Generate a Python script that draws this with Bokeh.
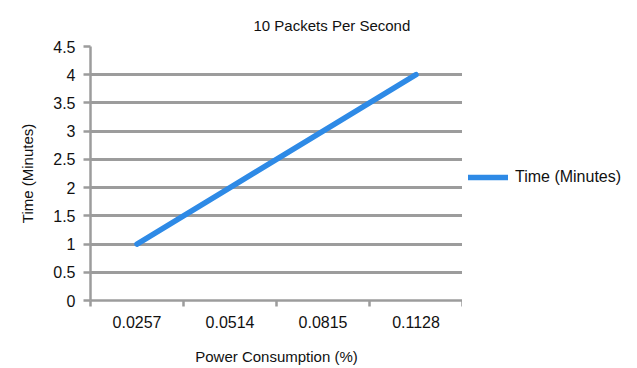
from bokeh.plotting import figure
from bokeh.layouts import row
from bokeh.models import Range1d, LinearAxis, FixedTicker, Legend, LegendItem, Title
from bokeh.embed import file_html
from bokeh.resources import INLINE

power = ["0.0257", "0.0514", "0.0815", "0.1128"]
time_minutes = [1, 2, 3, 4]
y_ticks = [0, 0.5, 1, 1.5, 2, 2.5, 3, 3.5, 4, 4.5]
y_tick_labels = ["0", "0.5", "1", "1.5", "2", "2.5", "3", "3.5", "4", "4.5"]
series_name = "Time (Minutes)"

# category slots: each category occupies one unit, centred at i + 0.5
x_pos = [i + 0.5 for i in range(len(power))]
x_edges = list(range(len(power) + 1))

FONT = "Liberation Sans"
GRAY = "#9c9c9c"
BLUE = "#2e8ae6"

p = figure(frame_width=372, frame_height=254, output_backend="svg", toolbar_location=None,
           x_range=Range1d(0, len(power)), y_range=Range1d(0, 4.5),
           x_axis_location=None, y_axis_location=None,
           min_border_left=90, min_border_right=0, min_border_top=46, min_border_bottom=68)
p.title = None
p.outline_line_color = None

t = Title(text="10 Packets Per Second", align="left", offset=163, standoff=26,
          text_font=FONT, text_font_size="15px", text_font_style="normal", text_color="#111111")
p.add_layout(t, "above")

# x axis with boundary ticks
edge_axis = LinearAxis(ticker=FixedTicker(ticks=x_edges),
                       major_label_text_font_size="0px", major_label_standoff=0,
                       axis_line_color=GRAY, axis_line_width=2.5,
                       major_tick_line_color=GRAY, major_tick_line_width=2.5,
                       major_tick_out=6, major_tick_in=0, minor_tick_line_color=None)
edge_axis.major_label_overrides = {i: "" for i in x_edges}
p.add_layout(edge_axis, "below")

cat_axis = LinearAxis(ticker=FixedTicker(ticks=x_pos), axis_line_color=None,
                      major_tick_line_color=None, minor_tick_line_color=None,
                      major_label_text_font=FONT, major_label_text_font_size="16px",
                      major_label_text_color="#111111", major_label_standoff=3,
                      axis_label="Power Consumption (%)", axis_label_text_font=FONT,
                      axis_label_text_font_size="15px", axis_label_text_font_style="normal",
                      axis_label_text_color="#111111", axis_label_standoff=17)
cat_axis.major_label_overrides = {x: s for x, s in zip(x_pos, power)}
p.add_layout(cat_axis, "below")

y_axis = LinearAxis(ticker=FixedTicker(ticks=y_ticks),
                    axis_line_color=GRAY, axis_line_width=2.5,
                    major_tick_line_color=GRAY, major_tick_line_width=2.5,
                    major_tick_out=7, major_tick_in=0, minor_tick_line_color=None,
                    major_label_text_font=FONT, major_label_text_font_size="16px",
                    major_label_text_color="#111111", major_label_standoff=8,
                    axis_label="Time (Minutes)", axis_label_text_font=FONT,
                    axis_label_text_font_size="15px", axis_label_text_font_style="normal",
                    axis_label_text_color="#111111", axis_label_standoff=14)
y_axis.major_label_overrides = {v: s for v, s in zip(y_ticks, y_tick_labels)}
p.add_layout(y_axis, "left")

p.ygrid.ticker = FixedTicker(ticks=y_ticks)
p.ygrid.grid_line_color = GRAY
p.ygrid.grid_line_width = 3
p.xgrid.grid_line_color = None

line_style = dict(line_color=BLUE, line_width=5.5, line_cap="round")
r = p.line(x_pos, time_minutes, **line_style)

# legend panel to the right of the plot area (series drawn out of view, only its key shows)
p2 = figure(width=160, height=368, output_backend="svg", toolbar_location=None,
            x_range=Range1d(100, 101), y_range=Range1d(100, 101),
            x_axis_location=None, y_axis_location=None, min_border=0)
p2.outline_line_color = None
p2.xgrid.visible = False
p2.ygrid.visible = False
r2 = p2.line(x_pos, time_minutes, **line_style)

legend = Legend(items=[LegendItem(label=series_name, renderers=[r2])],
                location=(6, 113), padding=0, margin=0, border_line_color=None,
                background_fill_alpha=0, glyph_width=40, glyph_height=20, label_standoff=7,
                label_text_font=FONT, label_text_font_size="16px", label_text_color="#111111")
p2.add_layout(legend, "center")

layout = row(p, p2)
open("out.html", "w").write(file_html(layout, INLINE))
